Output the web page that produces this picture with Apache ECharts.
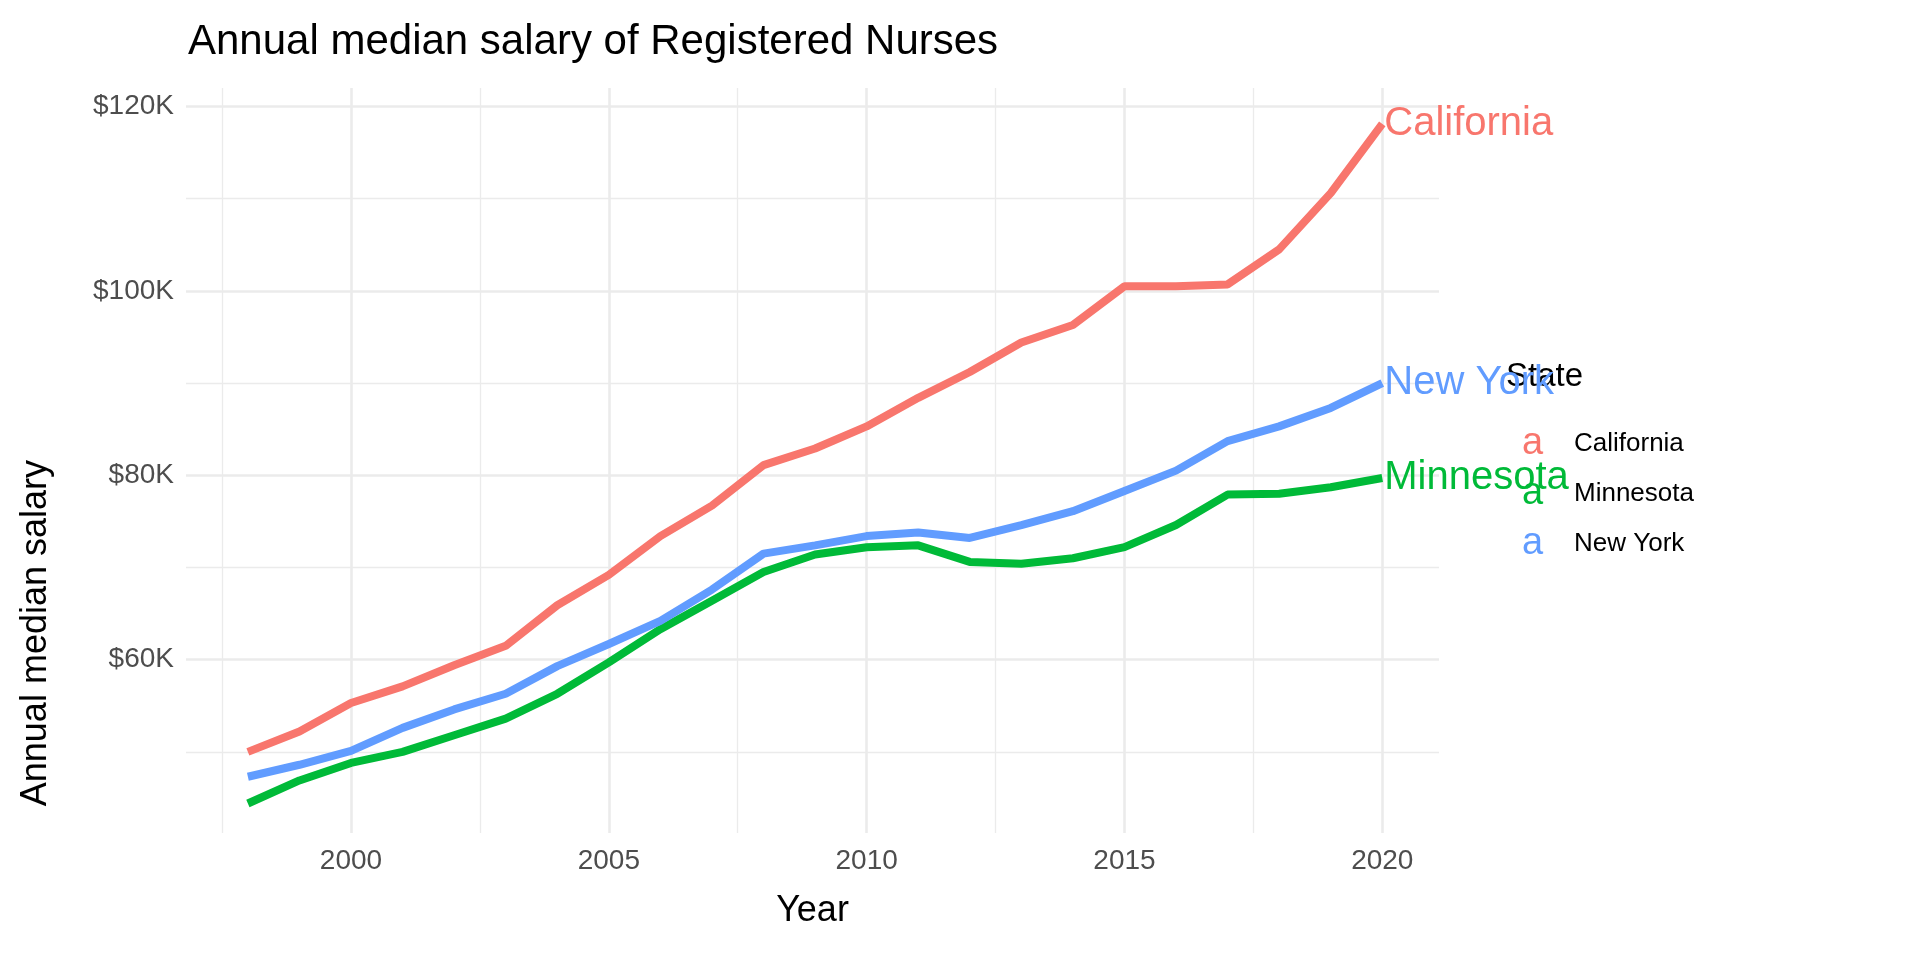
<!DOCTYPE html>
<html>
<head>
<meta charset="utf-8">
<script src="https://cdn.jsdelivr.net/npm/echarts@6/dist/echarts.min.js"></script>
<style>html,body{margin:0;background:#fff}#chart{width:1920px;height:960px}</style>
</head>
<body>
<div id="chart"></div>
<script>
const years = [1998,1999,2000,2001,2002,2003,2004,2005,2006,2007,2008,2009,2010,2011,2012,2013,2014,2015,2016,2017,2018,2019,2020];
const california = [50.0,52.2,55.3,57.1,59.4,61.5,65.9,69.2,73.4,76.7,81.1,82.9,85.3,88.4,91.2,94.4,96.3,100.5,100.5,100.7,104.5,110.6,118.1];
const minnesota = [44.4,46.9,48.8,50.0,51.8,53.6,56.3,59.7,63.3,66.4,69.5,71.4,72.2,72.4,70.6,70.4,71.0,72.2,74.6,77.9,78.0,78.7,79.7];
const newYork = [47.3,48.6,50.1,52.6,54.6,56.3,59.3,61.7,64.2,67.6,71.5,72.4,73.4,73.8,73.2,74.6,76.1,78.3,80.5,83.7,85.3,87.3,90.0];
const xMajor = [2000,2005,2010,2015,2020];
const xMinor = [1997.5,2002.5,2007.5,2012.5,2017.5];
const yMajor = [60,80,100,120];
const yMinor = [50,70,90,110];

const states = [
  { name: 'California', data: california, color: '#F8766D' },
  { name: 'Minnesota', data: minnesota, color: '#00BA38' },
  { name: 'New York', data: newYork, color: '#619CFF' }
];

const chart = echarts.init(document.getElementById('chart'));
const font = 'Liberation Sans, Arial, sans-serif';

const gridLines = [
  ...xMajor.map(v => ({ xAxis: v, lineStyle: { width: 2.6 } })),
  ...xMinor.map(v => ({ xAxis: v, lineStyle: { width: 1.3 } })),
  ...yMajor.map(v => ({ yAxis: v, lineStyle: { width: 2.6 } })),
  ...yMinor.map(v => ({ yAxis: v, lineStyle: { width: 1.3 } }))
];

const rich = {};
states.forEach((s, i) => {
  rich['a' + i] = { color: s.color, fontSize: 38, fontFamily: font, width: 52, align: 'left' };
});
rich.t = { color: '#000', fontSize: 26, fontFamily: font };

chart.setOption({
  animation: false,
  title: {
    text: 'Annual median salary of Registered Nurses',
    left: 183, top: 16,
    textStyle: { fontFamily: font, fontSize: 42, fontWeight: 'normal', color: '#000' }
  },
  grid: { left: 186, right: 481, top: 88, bottom: 127 },
  legend: {
    orient: 'vertical', left: 1512, top: 420, itemGap: 12,
    icon: 'none', itemWidth: 0,
    data: states.map(s => s.name),
    formatter: name => '{a' + states.findIndex(s => s.name === name) + '|a}{t|' + name + '}',
    textStyle: { rich }
  },
  graphic: [
    { type: 'text', left: 1506, top: 360, style: { text: 'State', fontFamily: font, fontSize: 33, fill: '#000' } },
    { type: 'text', left: 18, top: 460, rotation: Math.PI / 2, style: { text: 'Annual median salary', fontFamily: font, fontSize: 36, fill: '#000', align: 'center', verticalAlign: 'middle' } }
  ],
  xAxis: {
    type: 'value', min: 1996.8, max: 2021.1,
    name: 'Year', nameLocation: 'middle', nameGap: 60,
    nameTextStyle: { fontFamily: font, fontSize: 36, color: '#000' },
    axisLine: { show: false }, axisTick: { show: false }, splitLine: { show: false },
    axisLabel: { customValues: xMajor, formatter: v => String(v), fontFamily: font, fontSize: 28, color: '#4d4d4d', margin: 14 }
  },
  yAxis: {
    type: 'value', min: 41.2, max: 122,
    axisLine: { show: false }, axisTick: { show: false }, splitLine: { show: false },
    axisLabel: { customValues: yMajor, formatter: v => '$' + v + 'K', fontFamily: font, fontSize: 28, color: '#4d4d4d', margin: 12 }
  },
  series: states.map((s, i) => ({
    name: s.name,
    type: 'line',
    data: years.map((y, j) => [y, s.data[j]]),
    showSymbol: false,
    color: s.color,
    lineStyle: { width: 8, color: s.color },
    z: 3,
    endLabel: { show: true, formatter: s.name, color: s.color, fontFamily: font, fontSize: 40, distance: 2 },
    markLine: i === 0 ? {
      silent: true, symbol: 'none', z: 1, label: { show: false },
      lineStyle: { color: '#ebebeb', type: 'solid' },
      data: gridLines
    } : undefined
  }))
});
</script>
</body>
</html>
